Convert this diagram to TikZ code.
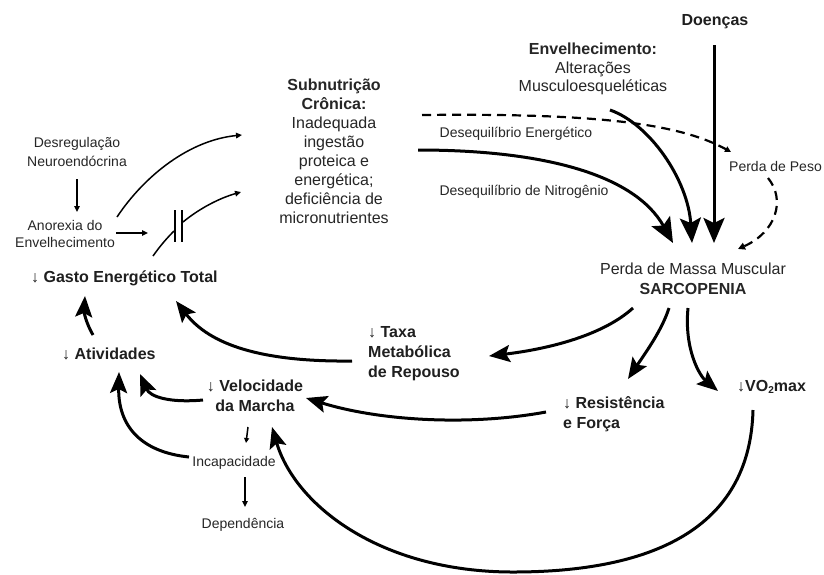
\documentclass[tikz,border=0pt]{standalone}
\usepackage{fontspec}
\setmainfont{Liberation Sans}
\usetikzlibrary{arrows.meta}
\begin{document}
\begin{tikzpicture}[x=1pt,y=-1pt,
  lbl/.style={inner sep=0pt, text=black!85, font=\fontsize{16}{19}\selectfont},
  bl/.style={inner sep=0pt, text=black!88, font=\fontsize{16}{20}\selectfont\bfseries},
  sm/.style={inner sep=0pt, text=black!85, font=\fontsize{14}{17}\selectfont},
  big/.style={line width=3pt, -{Stealth[length=21pt,width=17pt,inset=4pt]}},
  huge/.style={line width=3pt, -{Stealth[length=25pt,width=21pt,inset=5pt]}},
  thinar/.style={line width=1.5pt, -{Triangle[length=6pt,width=5.5pt]}},
  thinln/.style={line width=1.5pt},
  dsh/.style={line width=2.2pt, dash pattern=on 9pt off 6pt}
]
\useasboundingbox[fill=white] (0,0) rectangle (824,574);

% ---------- nodes ----------
\node[bl, anchor=base] (doe) at (715,25) {Doenças};
\node[lbl, align=center, anchor=north, font=\fontsize{16}{18.5}\selectfont] (env) at (593,43)
  {\textbf{Envelhecimento:}\\Alterações\\Musculoesqueléticas};
\node[lbl, align=center, anchor=north] (sub) at (334,79)
  {\textbf{Subnutrição}\\\textbf{Crônica:}\\Inadequada\\ingestão\\proteica e\\energética;\\deficiência de\\micronutrientes};
\node[sm, anchor=base] (deq1) at (516,137.5) {Desequilíbrio Energético};
\node[sm, anchor=base] (deq2) at (524,195.5) {Desequilíbrio de Nitrogênio};
\node[sm, anchor=base west] (peso) at (729,171.5) {Perda de Peso};
\node[lbl, align=center, anchor=north, font=\fontsize{16}{20}\selectfont] (sarc) at (693,263)
  {Perda de Massa Muscular\\\textbf{SARCOPENIA}};
\node[sm, align=center, anchor=north, font=\fontsize{14}{19}\selectfont] (desr) at (77,137)
  {Desregulação\\Neuroendócrina};
\node[sm, align=center, anchor=north] (anor) at (65,220) {Anorexia do\\Envelhecimento};
\node[bl, anchor=base west] (gasto) at (31,282) {↓ Gasto Energético Total};
\node[bl, anchor=base west] (ativ) at (62,359) {↓ Atividades};
\node[bl, align=left, anchor=north west] (taxa) at (368,326) {↓ Taxa\\Metabólica\\de Repouso};
\node[bl, align=center, anchor=north] (velo) at (255,380) {↓ Velocidade\\da Marcha};
\node[sm, anchor=base] (inca) at (234,466.5) {Incapacidade};
\node[sm, anchor=base] (depe) at (243,528.5) {Dependência};
\node[bl, align=left, anchor=north west] (resi) at (563,396) {↓ Resistência\\e Força};
\node[bl, anchor=base west] (vo2) at (737,391) {↓VO\raisebox{-0.25ex}{\fontsize{10}{10}\selectfont 2}max};

% ---------- connector end points ----------
\coordinate (doeS) at (714,45);
\coordinate (tipD) at (714,243);
\coordinate (envS) at (610,110);
\coordinate (tipE) at (692,243);
\coordinate (nitS) at (418,150);
\coordinate (tipN) at (673,243);
\coordinate (enS) at (422,115);
\coordinate (pesoE) at (731,152);
\coordinate (pesoS) at (768,178);
\coordinate (tipP) at (738,249);
\coordinate (desrS) at (77,179);
\coordinate (anorT) at (77,212);
\coordinate (anorA) at (117,217);
\coordinate (subA) at (242,135);
\coordinate (anorB) at (116,233);
\coordinate (blkA) at (148,233);
\coordinate (blkL) at (153,256);
\coordinate (blkM) at (174,231);
\coordinate (bar1t) at (175,210);
\coordinate (bar1b) at (175,242);
\coordinate (bar2t) at (182,210);
\coordinate (bar2b) at (182,242);
\coordinate (blkU) at (183,222);
\coordinate (subB) at (241,192);
\coordinate (ativS) at (93,335);
\coordinate (gastoA) at (85,296);
\coordinate (taxaS) at (352,361);
\coordinate (gastoB) at (176,301);
\coordinate (veloS) at (203,400);
\coordinate (ativA) at (140,374);
\coordinate (veloD) at (248,427);
\coordinate (incaT) at (246,443);
\coordinate (incaS) at (189,457);
\coordinate (ativB) at (119,372);
\coordinate (incaD) at (245,477);
\coordinate (depeT) at (245,507);
\coordinate (resiS) at (546,412);
\coordinate (veloA) at (306,398);
\coordinate (vo2S) at (753,410);
\coordinate (loop) at (513,572);
\coordinate (veloB) at (272,427);
\coordinate (sarcA) at (633,308);
\coordinate (taxaT) at (489,356);
\coordinate (sarcB) at (669,308);
\coordinate (resiT) at (628,379);
\coordinate (sarcC) at (688,308);
\coordinate (vo2T) at (718,391);

% ---------- connectors ----------
\draw[huge] (doeS) -- (tipD);
\draw[huge] (envS) .. controls (650,124) and (688,180) .. (tipE);
\draw[huge] (nitS) .. controls (545,150) and (635,175) .. (tipN);
\draw[dsh, -{Triangle[length=6pt,width=6pt]}] (enS) .. controls (600,113) and (680,124) .. (pesoE);
\draw[dsh, -{Triangle[length=7pt,width=7pt]}] (pesoS) .. controls (786,200) and (776,232) .. (tipP);

\draw[thinar] (desrS) -- (anorT);
\draw[thinar] (anorA) .. controls (145,175) and (190,140) .. (subA);
\draw[thinar] (anorB) -- (blkA);
\draw[thinln] (blkL) .. controls (160,246) and (167,238) .. (blkM);
\draw[thinln] (bar1t) -- (bar1b);
\draw[thinln] (bar2t) -- (bar2b);
\draw[thinar] (blkU) .. controls (200,208) and (220,198) .. (subB);

\draw[big] (ativS) .. controls (86,323) and (84,312) .. (gastoA);
\draw[big] (taxaS) .. controls (262,362) and (210,345) .. (gastoB);
\draw[big] (veloS) .. controls (170,403) and (150,397) .. (ativA);
\draw[line width=1.5pt, -{Triangle[length=5pt,width=5pt]}] (veloD) -- (incaT);
\draw[big] (incaS) .. controls (140,452) and (118,425) .. (ativB);
\draw[thinar] (incaD) -- (depeT);
\draw[big] (resiS) .. controls (470,426) and (380,421) .. (veloA);
\draw[big] (vo2S) .. controls (750,530) and (650,572) .. (loop)
                 .. controls (380,572) and (295,505) .. (veloB);
\draw[big] (sarcA) .. controls (600,338) and (540,350) .. (taxaT);
\draw[big] (sarcB) .. controls (662,330) and (646,352) .. (resiT);
\draw[big] (sarcC) .. controls (684,350) and (700,376) .. (vo2T);
\end{tikzpicture}
\end{document}
